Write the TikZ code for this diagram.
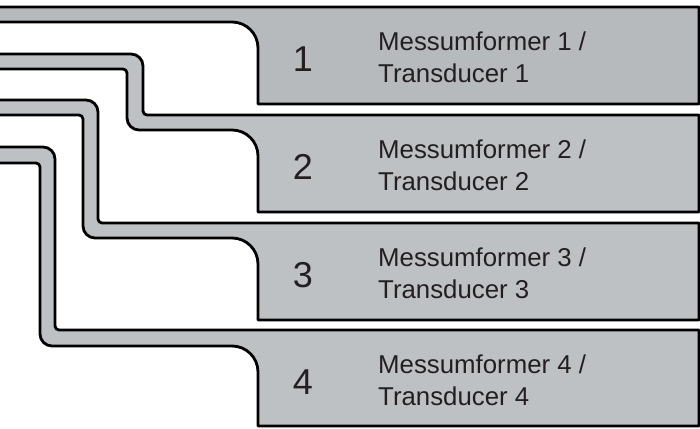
\documentclass[tikz,border=0pt]{standalone}
\usepackage{fontspec}
\setmainfont{Liberation Sans}
\definecolor{cablegray}{HTML}{BEC1C4}
\definecolor{cablegraydark}{HTML}{B7BABD}
\definecolor{inkgray}{HTML}{231F20}
\tikzset{
  cable/.style={draw=black, line width=2.8pt, fill=cablegray, line join=round},
  numlbl/.style={inner sep=0pt, anchor=base, text=inkgray, font=\fontsize{36}{36}\selectfont},
  txtlbl/.style={inner sep=0pt, anchor=base west, text=inkgray, font=\fontsize{25.8}{30}\selectfont}
}
\begin{document}
\begin{tikzpicture}[x=1pt, y=1pt]
\useasboundingbox (0,0) rectangle (700,-428);
\fill[white] (0,0) rectangle (700,-428);

% cable and housing of transducer 1
\draw[cable, fill=cablegraydark] (-10,-7) -- (699,-7) -- (699,-104) -- (258,-104)
  -- (258,-48) arc[start angle=0, end angle=90, radius=26]
  -- (-10,-22) -- cycle;

% cable and housing of transducer 2
\draw[cable] (-10,-54) -- (131,-54) arc[start angle=90, end angle=0, radius=12]
  -- (143,-111) arc[start angle=180, end angle=270, radius=4]
  -- (699,-115) -- (699,-212) -- (258,-212)
  -- (258,-156) arc[start angle=0, end angle=90, radius=26]
  -- (139,-130) arc[start angle=270, end angle=180, radius=12]
  -- (127,-73) arc[start angle=0, end angle=90, radius=4]
  -- (-10,-69) -- cycle;

% cable and housing of transducer 3
\draw[cable] (-10,-100) -- (86,-100) arc[start angle=90, end angle=0, radius=12]
  -- (98,-219) arc[start angle=180, end angle=270, radius=4]
  -- (699,-223) -- (699,-320) -- (258,-320)
  -- (258,-264) arc[start angle=0, end angle=90, radius=26]
  -- (95,-238) arc[start angle=270, end angle=180, radius=12]
  -- (83,-119) arc[start angle=0, end angle=90, radius=4]
  -- (-10,-115) -- cycle;

% cable and housing of transducer 4
\draw[cable] (-10,-147) -- (43,-147) arc[start angle=90, end angle=0, radius=12]
  -- (55,-326) arc[start angle=180, end angle=270, radius=4]
  -- (699,-330) -- (699,-426) -- (258,-426)
  -- (258,-372) arc[start angle=0, end angle=90, radius=26]
  -- (52,-346) arc[start angle=270, end angle=180, radius=12]
  -- (40,-167) arc[start angle=0, end angle=90, radius=4]
  -- (-10,-163) -- cycle;

% labels: box top offsets 7, 115, 223, 330
\foreach \i/\top in {1/7, 2/115, 3/223, 4/330} {
  \node[numlbl] (num\i) at (303,-\top-64) {\i};
  \node[txtlbl] (de\i) at (378,-\top-43) {Messumformer \i\ /};
  \node[txtlbl] (en\i) at (378,-\top-75) {Transducer \i};
}
\end{tikzpicture}
\end{document}
